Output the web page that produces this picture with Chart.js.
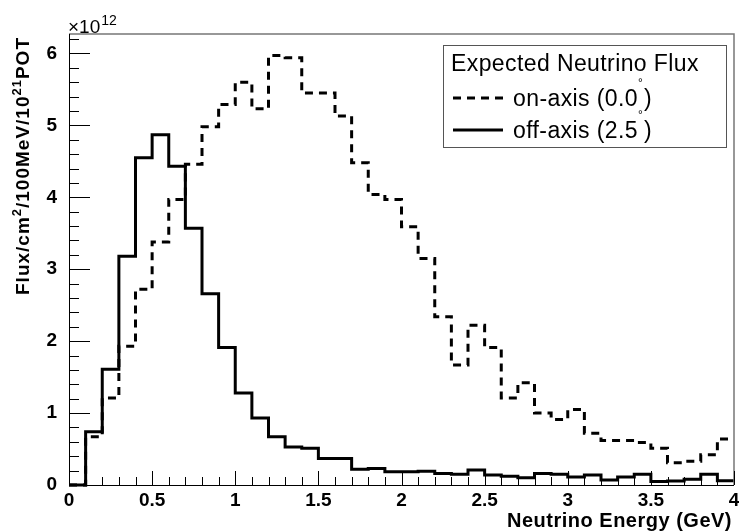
<!DOCTYPE html>
<html>
<head>
<meta charset="utf-8">
<title>Expected Neutrino Flux</title>
<script src="https://cdn.jsdelivr.net/npm/chart.js"></script>
<style>
body {
  margin: 0;
  background: white;
}
.wrap {
  position: relative;
  width: 739px;
  height: 531px;
}
</style>
</head>
<body>

<div class="wrap"><canvas id="fluxChart"></canvas></div>

<script>
// bin edges (GeV), 100 MeV bins
const binEdges = [0.0, 0.1, 0.2, 0.3, 0.4, 0.5, 0.6, 0.7, 0.8, 0.9,
  1.0, 1.1, 1.2, 1.3, 1.4, 1.5, 1.6, 1.7, 1.8, 1.9,
  2.0, 2.1, 2.2, 2.3, 2.4, 2.5, 2.6, 2.7, 2.8, 2.9,
  3.0, 3.1, 3.2, 3.3, 3.4, 3.5, 3.6, 3.7, 3.8, 3.9, 4.0];

// flux per bin, in units of 1e12
const onAxis = [0, 0.67, 1.21, 1.93, 2.72, 3.38, 3.97, 4.46, 4.98, 5.29,
  5.60, 5.23, 5.97, 5.94, 5.45, 5.45, 5.13, 4.48, 4.04, 3.97,
  3.59, 3.15, 2.34, 1.67, 2.22, 1.91, 1.21, 1.42, 1.00, 0.91,
  1.05, 0.72, 0.62, 0.62, 0.59, 0.51, 0.31, 0.33, 0.42, 0.64];

const offAxis = [0, 0.74, 1.61, 3.18, 4.55, 4.87, 4.43, 3.57, 2.66, 1.91,
  1.28, 0.93, 0.67, 0.53, 0.51, 0.37, 0.37, 0.22, 0.23, 0.185,
  0.185, 0.19, 0.16, 0.15, 0.21, 0.14, 0.12, 0.10, 0.16, 0.15,
  0.11, 0.14, 0.07, 0.11, 0.15, 0.05, 0.055, 0.08, 0.15, 0.06];

const xTicks = [0, 0.5, 1, 1.5, 2, 2.5, 3, 3.5, 4];
const yTicks = [0, 1, 2, 3, 4, 5, 6];
const Y_MAX = 6.27;

const legendTitle = "Expected Neutrino Flux";
const legendOn = ["on-axis (0.0", ")"];
const legendOff = ["off-axis (2.5", ")"];

// histogram -> step points, value i holds from edge i to edge i+1
function toSteps(vals) {
  const pts = vals.map((v, i) => ({ x: binEdges[i], y: v }));
  pts.push({ x: binEdges[binEdges.length - 1], y: vals[vals.length - 1] });
  return pts;
}

const SANS = "'Liberation Sans', Arial, sans-serif";

// ROOT style frame, inward ticks, titles and legend box
const rootStyle = {
  id: "rootStyle",
  afterDatasetsDraw(chart) {
    const { ctx, chartArea: a, scales } = chart;
    const xs = scales.x, ys = scales.y;
    ctx.save();

    // top + right frame (grey)
    ctx.strokeStyle = "#777";
    ctx.lineWidth = 1.5;
    ctx.beginPath();
    ctx.moveTo(a.left, a.top);
    ctx.lineTo(a.right, a.top);
    ctx.lineTo(a.right, a.bottom);
    ctx.stroke();

    // axes
    ctx.strokeStyle = "#000";
    ctx.lineWidth = 1;
    ctx.beginPath();
    ctx.moveTo(a.left + 0.5, a.top);
    ctx.lineTo(a.left + 0.5, a.bottom + 0.5);
    ctx.lineTo(a.right, a.bottom + 0.5);
    ctx.stroke();

    // y ticks
    ctx.beginPath();
    for (let k = 0; k <= 31; k++) {
      const v = k * 0.2;
      if (v > Y_MAX) break;
      const py = Math.round(ys.getPixelForValue(v)) + 0.5;
      const len = k % 5 === 0 ? 21 : 10;
      ctx.moveTo(a.left, py);
      ctx.lineTo(a.left + len, py);
    }
    // x ticks
    for (let k = 0; k <= 40; k++) {
      const px = Math.round(xs.getPixelForValue(k * 0.1)) + 0.5;
      const len = k % 5 === 0 ? 14 : 8;
      ctx.moveTo(px, a.bottom);
      ctx.lineTo(px, a.bottom - len);
    }
    ctx.stroke();

    // x title
    ctx.fillStyle = "#000";
    ctx.font = "bold 20px " + SANS;
    ctx.letterSpacing = "0.5px";
    ctx.textAlign = "right";
    ctx.textBaseline = "alphabetic";
    ctx.fillText("Neutrino Energy (GeV)", 732, 527);

    // y title with superscripts, rotated
    ctx.save();
    ctx.translate(29, 0);
    ctx.rotate(-Math.PI / 2);
    ctx.letterSpacing = "1px";
    const big = "bold 19px " + SANS, small = "bold 13px " + SANS;
    const parts = [["Flux/cm", big, 0], ["2", small, -8], ["/100MeV/10", big, 0], ["21", small, -8], ["POT", big, 0]];
    let total = 0;
    parts.forEach(p => { ctx.font = p[1]; total += ctx.measureText(p[0]).width; });
    let cx = -37 - total;
    ctx.textAlign = "left";
    parts.forEach(p => {
      ctx.font = p[1];
      ctx.fillText(p[0], cx, p[2]);
      cx += ctx.measureText(p[0]).width;
    });
    ctx.restore();
    ctx.letterSpacing = "0px";

    // x10^12
    ctx.textAlign = "left";
    ctx.font = "19px " + SANS;
    ctx.fillText("\u00d710", 68, 33);
    const w10 = ctx.measureText("\u00d710").width;
    ctx.font = "14px " + SANS;
    ctx.fillText("12", 68 + w10 + 1, 25);

    // legend box
    ctx.fillStyle = "#fff";
    ctx.fillRect(443, 45, 283, 102);
    ctx.strokeStyle = "#555";
    ctx.lineWidth = 1;
    ctx.strokeRect(443.5, 45.5, 283, 102);

    ctx.fillStyle = "#000";
    ctx.font = "23px " + SANS;
    ctx.letterSpacing = "0.4px";
    ctx.fillText(legendTitle, 451, 71);

    const entry = (parts, y, dash) => {
      ctx.strokeStyle = "#000";
      ctx.lineWidth = 3;
      ctx.setLineDash(dash);
      ctx.beginPath();
      ctx.moveTo(453, y - 8);
      ctx.lineTo(503, y - 8);
      ctx.stroke();
      ctx.setLineDash([]);
      ctx.font = "23px " + SANS;
      ctx.fillText(parts[0], 513, y);
      const w = ctx.measureText(parts[0]).width;
      ctx.font = "12px " + SANS;
      ctx.fillText("\u00b0", 513 + w, y - 19);
      ctx.font = "23px " + SANS;
      ctx.fillText(parts[1], 513 + w + 6, y);
    };
    entry(legendOn, 106, [8, 6]);
    entry(legendOff, 138, []);

    ctx.restore();
  }
};

new Chart(fluxChart, {
  type: "line",
  data: {
    datasets: [{
      label: "off-axis (2.5°)",
      data: toSteps(offAxis),
      borderColor: "#000",
      borderWidth: 3,
      stepped: "before",
      pointRadius: 0,
      fill: false,
      clip: 6,
      order: 0
    }, {
      label: "on-axis (0.0°)",
      data: toSteps(onAxis),
      borderColor: "#000",
      borderWidth: 3,
      borderDash: [8, 6],
      stepped: "before",
      pointRadius: 0,
      fill: false,
      clip: 6,
      order: 1
    }]
  },
  plugins: [rootStyle],
  options: {
    responsive: true,
    maintainAspectRatio: false,
    devicePixelRatio: 1,
    animation: false,
    layout: { padding: { left: 0, right: 5, top: 34, bottom: 0 } },
    plugins: {
      legend: { display: false },
      tooltip: { enabled: false }
    },
    scales: {
      x: {
        type: "linear",
        min: 0,
        max: 4,
        grid: { display: false, drawTicks: false },
        border: { display: false },
        afterFit(s) { s.height = 46; s.paddingLeft = 0; s.paddingRight = 0; },
        afterBuildTicks(s) { s.ticks = xTicks.map(v => ({ value: v })); },
        ticks: {
          color: "#000",
          padding: 4,
          maxRotation: 0,
          autoSkip: false,
          callback: v => String(v),
          font: { family: SANS, size: 19, weight: "bold" }
        }
      },
      y: {
        min: 0,
        max: Y_MAX,
        grid: { display: false, drawTicks: false },
        border: { display: false },
        afterFit(s) { s.width = 69; s.paddingTop = 0; s.paddingBottom = 0; },
        afterBuildTicks(s) { s.ticks = yTicks.map(v => ({ value: v })); },
        ticks: {
          color: "#000",
          padding: 12,
          autoSkip: false,
          font: { family: SANS, size: 19, weight: "bold" }
        }
      }
    }
  }
});
</script>

</body>
</html>
